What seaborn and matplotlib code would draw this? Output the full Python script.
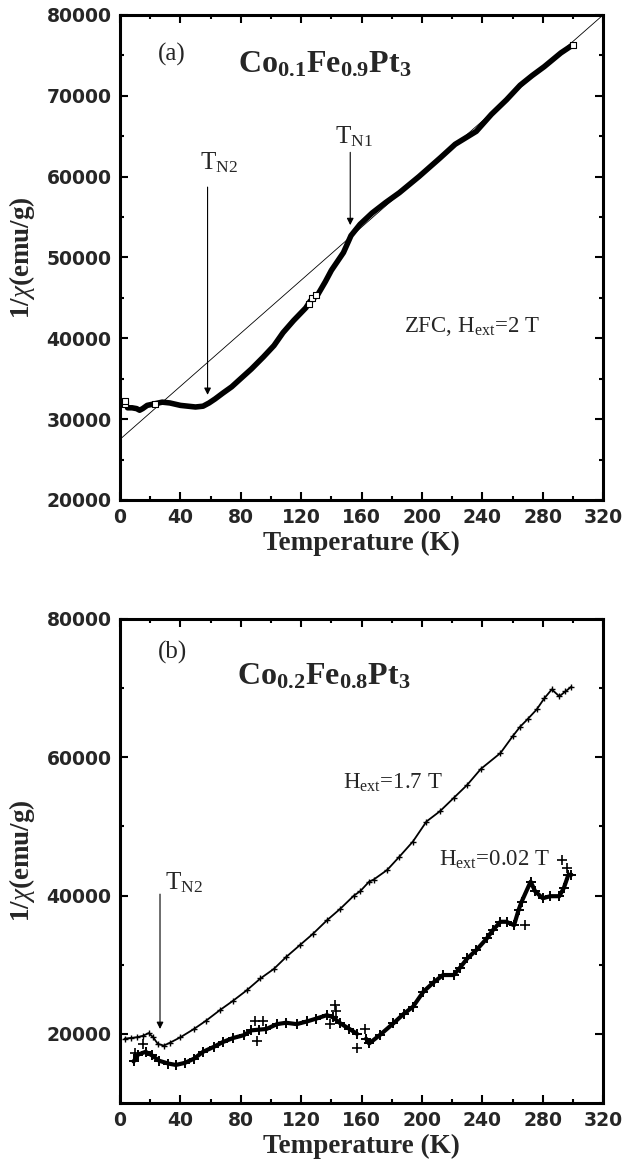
import matplotlib

matplotlib.use("Agg")
import matplotlib.pyplot as plt
import seaborn as sns
from matplotlib.ticker import MultipleLocator

# ---- panel (a): Co0.1Fe0.9Pt3, ZFC, H = 2 T ----
a_temp = [5, 8, 11, 13, 15, 18, 23, 28, 33, 40, 45, 50, 55, 59, 63, 68, 74,
          79, 87, 95, 102, 108, 115, 123, 126, 131, 136, 140, 144, 148, 153,
          159, 167, 176, 185, 198, 212, 222, 236, 246, 256, 265, 273, 281,
          292, 300]
a_inv_chi = [31400, 31400, 31300, 31100, 31300, 31700, 31900, 32100, 32000,
             31700, 31600, 31500, 31600, 32000, 32500, 33200, 34000, 34850,
             36200, 37700, 39100, 40700, 42200, 43750, 44600, 45400, 47000,
             48400, 49500, 50600, 52700, 54100, 55500, 56800, 58000, 60000,
             62300, 64000, 65600, 67700, 69500, 71300, 72500, 73600, 75300,
             76300]
a_open_temp = [3, 3, 23, 125, 127, 130, 300]
a_open_val = [31900, 32200, 31900, 44300, 45000, 45400, 76300]
# Curie-Weiss straight line
a_fit_temp = [0, 320]
a_fit_val = [27500, 80000]

# ---- panel (b): Co0.2Fe0.8Pt3 ----
b_hi_temp = [3, 7, 11, 15, 19, 22, 25, 29, 33, 40, 49, 57, 66, 75, 84, 93,
             102, 110, 119, 128, 137, 146, 155, 159, 165, 168, 177, 185, 194,
             203, 212, 221, 230, 239, 252, 260, 265, 270, 276, 281, 286, 291,
             295, 299]
b_hi_val = [19300, 19400, 19500, 19700, 20100, 19500, 18550, 18300, 18700,
            19500, 20700, 21900, 23400, 24800, 26300, 28000, 29400, 31100,
            32800, 34500, 36400, 38100, 40000, 40600, 42000, 42300, 43700,
            45600, 47800, 50700, 52200, 54100, 56000, 58300, 60600, 63000,
            64400, 65500, 66900, 68500, 69800, 68800, 69500, 70200]

b_lo1_temp = [9, 12, 17, 21, 26, 32, 37, 43, 49, 55, 62, 68, 75, 82, 87, 92,
              97, 104, 110, 117, 124, 130, 137, 141, 146, 152, 157]
b_lo1_val = [16000, 17000, 17400, 16900, 16100, 15700, 15500, 15800, 16400,
             17400, 18100, 18800, 19400, 19800, 20500, 20600, 20700, 21400,
             21600, 21400, 21800, 22200, 22700, 22400, 21500, 20700, 20000]
b_lo2_temp = [163, 165, 172, 181, 188, 194, 201, 208, 214, 221, 225, 230,
              236, 243, 247, 252, 256, 261, 264, 266, 272, 275, 280, 285,
              291, 294, 297, 299]
b_lo2_val = [19300, 18600, 19800, 21500, 22900, 23900, 26100, 27500, 28500,
             28500, 29500, 30900, 32100, 33800, 35000, 36200, 36200, 35700,
             37900, 39100, 42000, 40600, 39600, 39900, 39900, 41100, 43000,
             43000]
b_out_temp = [10, 15.5, 89.5, 90.5, 95, 139, 142.5, 143, 157, 162, 268, 293,
              296]
b_out_val = [17250, 18550, 21900, 19000, 21900, 21450, 24100, 23300, 17900,
             20700, 35700, 45200, 44000]

sns.set_style("ticks")
plt.rcParams["font.family"] = ["Liberation Serif", "DejaVu Sans"]
plt.rcParams["mathtext.fontset"] = "custom"
plt.rcParams["mathtext.rm"] = "Liberation Serif"
plt.rcParams["mathtext.it"] = "Liberation Serif:italic"
plt.rcParams["mathtext.bf"] = "Liberation Serif:bold"

fig = plt.figure(figsize=(6.25, 11.75), dpi=100)
ax_a = fig.add_axes([0.192, 0.5745, 0.773, 0.4128])
ax_b = fig.add_axes([0.192, 0.0613, 0.773, 0.412])


def style_axes(ax, ylim, ymajor, yminor):
    ax.set_xlim(0, 320)
    ax.set_ylim(*ylim)
    ax.xaxis.set_major_locator(MultipleLocator(40))
    ax.xaxis.set_minor_locator(MultipleLocator(20))
    ax.yaxis.set_major_locator(MultipleLocator(ymajor))
    ax.yaxis.set_minor_locator(MultipleLocator(yminor))
    for sp in ax.spines.values():
        sp.set_visible(True)
        sp.set_linewidth(2.2)
        sp.set_color("black")
    ax.tick_params(which="both", direction="in", top=True, right=True,
                   color="black", width=1.5)
    ax.tick_params(which="major", length=6, pad=6, labelsize=13.5)
    ax.tick_params(which="minor", length=3)
    for lbl in ax.get_xticklabels() + ax.get_yticklabels():
        lbl.set_family("DejaVu Sans")
        lbl.set_fontweight("bold")
    ax.set_xlabel("Temperature (K)", fontsize=19.5, fontweight="bold",
                  va="center")
    ax.set_ylabel(r"1/$\chi$(emu/g)", fontsize=19.5, fontweight="bold",
                  va="center")
    ax.xaxis.set_label_coords(0.5, -0.089)
    ax.yaxis.set_label_coords(-0.203, 0.5)


plus_hi = dict(marker="+", markersize=5, markeredgewidth=1.0,
               markeredgecolor="black")
plus_lo = dict(marker="+", markersize=7, markeredgewidth=1.4,
               markeredgecolor="black")

# ---- draw panel (a) ----
sns.lineplot(x=a_fit_temp, y=a_fit_val, ax=ax_a, color="black", lw=0.6)
sns.lineplot(x=a_temp, y=a_inv_chi, ax=ax_a, color="black", lw=4.0)
sns.scatterplot(x=a_open_temp, y=a_open_val, ax=ax_a, marker="s", s=22,
                color="white", edgecolor="black", linewidth=0.8, zorder=5)
style_axes(ax_a, (20000, 80000), 10000, 5000)

arrow = dict(arrowstyle="-|>", color="black", lw=0.8, mutation_scale=10,
             shrinkA=0, shrinkB=0)
ax_a.annotate("", xy=(58, 33000), xytext=(58, 58700), arrowprops=arrow)
ax_a.annotate("", xy=(152.5, 54000), xytext=(152.5, 63000), arrowprops=arrow)
ax_a.text(53, 61700, r"T$_{\rm N2}$", fontsize=18, va="center")
ax_a.text(142.5, 64900, r"T$_{\rm N1}$", fontsize=18, va="center")
ax_a.text(34.5, 75100, "(a)", fontsize=18, ha="center", va="center")
ax_a.text(136, 73800, r"$\mathbf{Co_{0.1}Fe_{0.9}Pt_{3}}$", fontsize=23,
          ha="center", va="center")
ax_a.text(188, 41400, r"ZFC, H$_{\rm ext}$=2 T", fontsize=16.5, va="center")

# ---- draw panel (b) ----
sns.lineplot(x=b_hi_temp, y=b_hi_val, ax=ax_b, color="black", lw=1.3,
             **plus_hi)
sns.lineplot(x=b_lo1_temp, y=b_lo1_val, ax=ax_b, color="black", lw=3.0,
             **plus_lo)
sns.lineplot(x=b_lo2_temp, y=b_lo2_val, ax=ax_b, color="black", lw=3.0,
             **plus_lo)
sns.scatterplot(x=b_out_temp, y=b_out_val, ax=ax_b, marker="+", s=55,
                color="black", linewidth=1.2)
style_axes(ax_b, (10000, 80000), 20000, 10000)

ax_b.annotate("", xy=(26.5, 20700), xytext=(26.5, 40200), arrowprops=arrow)
ax_b.text(30, 41900, r"T$_{\rm N2}$", fontsize=18, va="center")
ax_b.text(34.5, 75200, "(b)", fontsize=18, ha="center", va="center")
ax_b.text(135, 71600, r"$\mathbf{Co_{0.2}Fe_{0.8}Pt_{3}}$", fontsize=23,
          ha="center", va="center")
ax_b.text(148, 56300, r"H$_{\rm ext}$=1.7 T", fontsize=16.5, va="center")
ax_b.text(211, 45200, r"H$_{\rm ext}$=0.02 T", fontsize=16.5, va="center")

fig.savefig("out.png", dpi=100)
